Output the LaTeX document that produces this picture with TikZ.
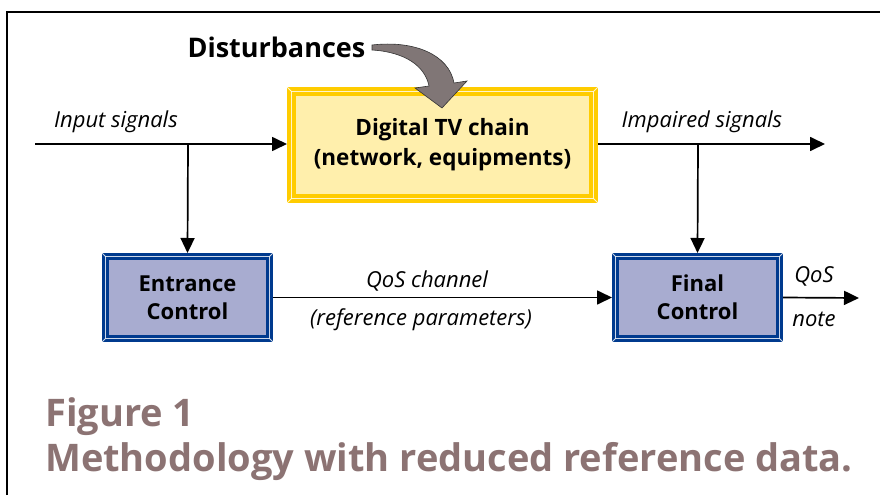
\documentclass[tikz,border=0pt]{standalone}
\usepackage{fontspec}
\setmainfont{Open Sans}
\usetikzlibrary{arrows.meta}
\definecolor{gold}{RGB}{255,204,0}
\definecolor{paleyel}{RGB}{255,239,172}
\definecolor{dkblue}{RGB}{0,58,142}
\definecolor{lavend}{RGB}{168,172,208}
\definecolor{arrgray}{RGB}{128,118,118}
\definecolor{capcol}{RGB}{140,115,115}
\tikzset{
  ybox/.style={rectangle, fill=paleyel, draw=gold, line width=9pt, align=center,
    font=\fontsize{22.5}{30}\selectfont\bfseries, text=black},
  bbox/.style={rectangle, fill=lavend, draw=dkblue, line width=7pt, align=center,
    font=\fontsize{22}{28}\selectfont\bfseries, text=black},
  sig/.style={line width=1.7pt, -{Triangle[length=15pt,width=14pt]}},
  lbl/.style={font=\fontsize{22}{24}\selectfont\itshape, text=black},
  bevel/.style={white, line width=0.8pt, opacity=0.8}
}
\begin{document}
\begin{tikzpicture}[x=1pt,y=-1pt]
\useasboundingbox (0,0) rectangle (880,495);
\fill[white] (0,0) rectangle (880,495);
% frame
\draw[line width=2pt] (7,495) -- (7,12) -- (881,12);

% boxes
\node[ybox, minimum width=302pt, minimum height=107pt] (tv) at (442.5,145) {Digital TV chain\\(network, equipments)};
\node[bbox, minimum width=164pt, minimum height=82pt] (ent) at (187.5,297.5) {Entrance\\Control};
\node[bbox, minimum width=164pt, minimum height=82pt] (fin) at (697.5,297.5) {Final\\Control};

% bevel lines
\foreach \n/\w in {tv/4.5, ent/3.5, fin/3.5}{
  \draw[bevel] ([shift={(-\w,-\w)}]\n.north west) -- ([shift={(\w,\w)}]\n.north west);
  \draw[bevel] ([shift={(\w,-\w)}]\n.north east) -- ([shift={(-\w,\w)}]\n.north east);
  \draw[bevel] ([shift={(-\w,\w)}]\n.south west) -- ([shift={(\w,-\w)}]\n.south west);
  \draw[bevel] ([shift={(\w,\w)}]\n.south east) -- ([shift={(-\w,-\w)}]\n.south east);
  \draw[bevel, line width=0.6pt] ([shift={(\w,\w)}]\n.north west) rectangle ([shift={(-\w,-\w)}]\n.south east);
}

% coordinates
\coordinate (inS) at (35,144);
\coordinate (brA) at (188,144);
\coordinate (brB) at (698,144);
\coordinate (outE) at (825,144);
\coordinate (qosE) at (859,298);

% connectors
\draw[sig] (inS) -- (inS -| tv.west);
\draw[sig] (brA) -- (ent.north);
\draw[sig] (tv.east |- outE) -- (outE);
\draw[sig] (brB) -- (fin.north);
\draw[sig] (ent.east) -- (fin.west);
\draw[sig] (fin.east) -- (qosE);

% labels
\node[lbl] (l1) at (116,122) {Input signals};
\node[lbl] (l2) at (702,122) {Impaired signals};
\node[lbl] (l3) at (427,281) {QoS channel};
\node[lbl] (l4) at (421,320) {(reference parameters)};
\node[lbl] (l5) at (814,276) {QoS};
\node[lbl] (l6) at (814,319) {note};

% disturbances
\node[font=\fontsize{27}{30}\selectfont\bfseries, anchor=west] (dist) at (184,47) {Disturbances};
\fill[arrgray, draw=black!80, line width=0.6pt]
  (372,45) .. controls (415,40) and (449,55) .. (454,83)
  -- (467,81) -- (442,108) -- (415,88) -- (429,86)
  .. controls (425,66) and (405,52) .. (372,50) -- cycle;

% caption
\node[font=\fontsize{38}{45}\selectfont\bfseries, text=capcol, anchor=north west, align=left, inner sep=0pt] (cap) at (45,397) {Figure 1\\Methodology with reduced reference data.};
\end{tikzpicture}
\end{document}
